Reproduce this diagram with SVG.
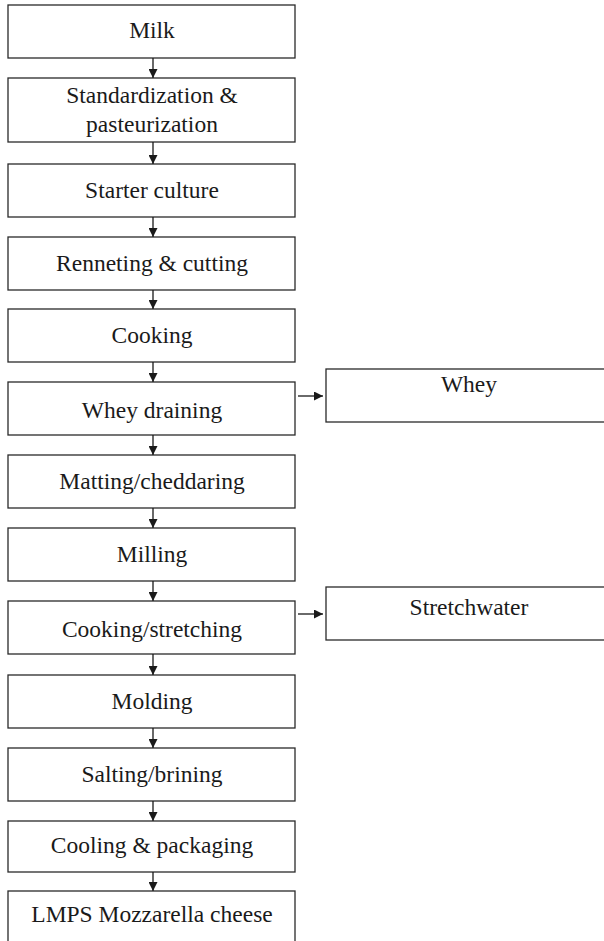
<svg xmlns="http://www.w3.org/2000/svg" width="604" height="941" viewBox="0 0 604 941">
<style>
  .box { fill: #ffffff; stroke: #2a2a2a; stroke-width: 1.3; }
  .lbl { font-family: "Liberation Serif", "Times New Roman", serif; font-size: 23.5px; fill: #1a1a1a; text-anchor: middle; }
  .con { stroke: #1a1a1a; stroke-width: 1.3; fill: none; marker-end: url(#ah); }
</style>
<defs>
  <marker id="ah" viewBox="0 0 10 10" refX="10" refY="5" markerUnits="userSpaceOnUse" markerWidth="9" markerHeight="9" orient="auto">
    <path d="M0,0 L10,5 L0,10 Z" fill="#1a1a1a"/>
  </marker>
</defs>
<rect width="604" height="941" fill="#ffffff"/>
<g id="n-milk"><rect class="box" x="8" y="5" width="287" height="53"/><text class="lbl" x="152" y="38">Milk</text></g>
<g id="n-std"><rect class="box" x="8" y="78" width="287" height="64"/><text class="lbl" x="152" y="103">Standardization &amp;</text><text class="lbl" x="152" y="132">pasteurization</text></g>
<g id="n-starter"><rect class="box" x="8" y="164" width="287" height="53"/><text class="lbl" x="152" y="198">Starter culture</text></g>
<g id="n-rennet"><rect class="box" x="8" y="237" width="287" height="53"/><text class="lbl" x="152" y="271">Renneting &amp; cutting</text></g>
<g id="n-cooking"><rect class="box" x="8" y="309" width="287" height="53"/><text class="lbl" x="152" y="343">Cooking</text></g>
<g id="n-wheydrain"><rect class="box" x="8" y="382" width="287" height="53"/><text class="lbl" x="152" y="418">Whey draining</text></g>
<g id="n-whey"><rect class="box" x="326" y="369" width="290" height="53"/><text class="lbl" x="469" y="392">Whey</text></g>
<g id="n-matting"><rect class="box" x="8" y="455" width="287" height="53"/><text class="lbl" x="152" y="489">Matting/cheddaring</text></g>
<g id="n-milling"><rect class="box" x="8" y="528" width="287" height="53"/><text class="lbl" x="152" y="562">Milling</text></g>
<g id="n-cookstretch"><rect class="box" x="8" y="601" width="287" height="53"/><text class="lbl" x="152" y="637">Cooking/stretching</text></g>
<g id="n-stretchwater"><rect class="box" x="326" y="587" width="290" height="53"/><text class="lbl" x="469" y="615">Stretchwater</text></g>
<g id="n-molding"><rect class="box" x="8" y="675" width="287" height="53"/><text class="lbl" x="152" y="709">Molding</text></g>
<g id="n-salting"><rect class="box" x="8" y="748" width="287" height="53"/><text class="lbl" x="152" y="782">Salting/brining</text></g>
<g id="n-cooling"><rect class="box" x="8" y="821" width="287" height="51"/><text class="lbl" x="152" y="853">Cooling &amp; packaging</text></g>
<g id="n-lmps"><rect class="box" x="8" y="891" width="287" height="70"/><text class="lbl" x="152" y="922">LMPS Mozzarella cheese</text></g>
<g id="connectors">
  <line class="con" x1="153" y1="58" x2="153" y2="78"/>
  <line class="con" x1="153" y1="142" x2="153" y2="164"/>
  <line class="con" x1="153" y1="217" x2="153" y2="237"/>
  <line class="con" x1="153" y1="290" x2="153" y2="309"/>
  <line class="con" x1="153" y1="362" x2="153" y2="382"/>
  <line class="con" x1="153" y1="435" x2="153" y2="455"/>
  <line class="con" x1="153" y1="508" x2="153" y2="528"/>
  <line class="con" x1="153" y1="581" x2="153" y2="601"/>
  <line class="con" x1="153" y1="654" x2="153" y2="675"/>
  <line class="con" x1="153" y1="728" x2="153" y2="748"/>
  <line class="con" x1="153" y1="801" x2="153" y2="821"/>
  <line class="con" x1="153" y1="872" x2="153" y2="891"/>
  <line class="con" x1="298" y1="396" x2="323" y2="396"/>
  <line class="con" x1="298" y1="614" x2="323" y2="614"/>
</g>
</svg>
